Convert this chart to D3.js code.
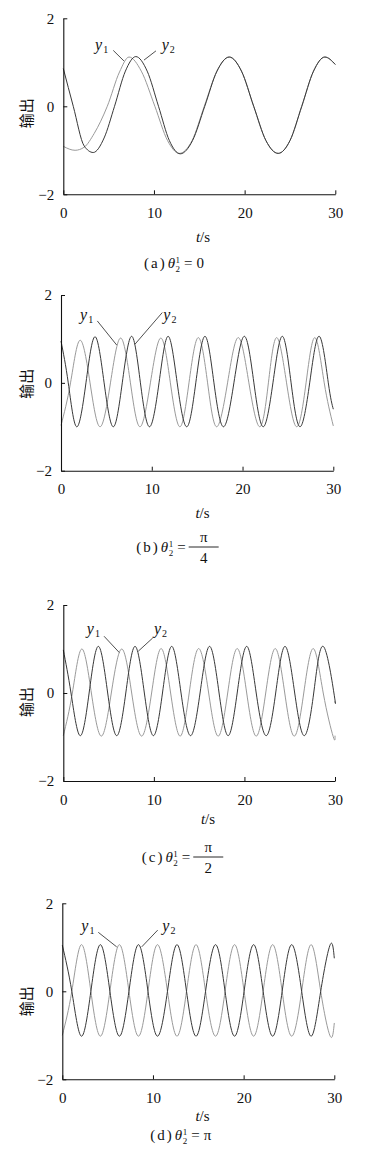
<!DOCTYPE html>
<html>
<head>
<meta charset="utf-8">
<script src="https://cdn.jsdelivr.net/npm/d3@7"></script>
<style>
body { margin: 0; background: #fff; }
svg text { font-family: "Liberation Serif", "DejaVu Serif", serif; fill: #111; }
</style>
</head>
<body>
<div id="chart"></div>
<script>
// tick labels and captions
var xTicks = [0, 10, 20, 30];
var yTicks = [2, 0, -2];
var panelLetters = ["a", "b", "c", "d"];
var thetaValues = ["0", "π/4", "π/2", "π"];

// (a) theta = 0 : [t, output]
var a_y1 = [[0,-0.91],[1.3,-1.0],[2.3,-0.93],[3.4,-0.62],[4.85,0],[6.2,0.78],[7.25,1.12],[8.6,0.8],[10.1,0],
            [11.5,-0.78],[12.8,-1.07],[14.2,-0.78],[15.55,0],[16.95,0.8],[18.3,1.12],[19.65,0.8],[21.0,0],
            [22.35,-0.78],[23.7,-1.07],[25.0,-0.78],[26.3,0],[27.6,0.8],[28.85,1.12],[30,0.95]];
var a_y2 = [[0,0.86],[1.1,0],[2.3,-0.9],[3.3,-1.05],[4.5,-0.72],[5.65,0],[6.85,0.8],[8.0,1.13],[9.25,0.8],
            [10.5,0],[11.7,-0.78],[12.9,-1.08],[14.25,-0.78],[15.6,0],[16.95,0.8],[18.3,1.12],[19.65,0.8],
            [21.0,0],[22.35,-0.78],[23.7,-1.07],[25.0,-0.78],[26.3,0],[27.6,0.8],[28.85,1.12],[30,0.95]];

// (b) theta = pi/4
var b_y1 = [[0,-0.97],[1.05,0],[2.09,0.97],[3.2,0],[4.3,-1.0],[5.45,0],[6.57,1.02],[7.65,0],[8.7,-1.0],
            [9.85,0],[11.0,1.02],[12.05,0],[13.1,-1.0],[14.1,0],[15.13,1.03],[16.15,0],[17.15,-1.0],
            [18.35,0],[19.53,1.03],[20.7,0],[21.9,-1.0],[22.85,0],[23.76,1.03],[24.85,0],[25.97,-1.0],
            [27.0,0],[27.98,1.03],[29.0,0],[30,-0.98]];
var b_y2 = [[0,0.95],[0.8,0],[1.72,-1.0],[2.75,0],[3.75,1.05],[4.75,0],[5.76,-1.0],[6.75,0],[7.78,1.06],
            [8.75,0],[9.75,-1.0],[10.8,0],[11.8,1.06],[12.8,0],[13.85,-1.0],[14.85,0],[15.86,1.06],
            [16.85,0],[17.9,-1.0],[19.05,0],[20.2,1.06],[21.25,0],[22.28,-1.0],[23.35,0],[24.38,1.06],
            [25.35,0],[26.33,-1.0],[27.4,0],[28.46,1.06],[29.45,0],[30,-0.6]];

// (c) theta = pi/2
var c_y1 = [[0,-0.97],[1.0,0],[2.03,1.0],[3.1,0],[4.2,-0.98],[5.3,0],[6.45,1.0],[7.55,0],[8.65,-0.98],
            [9.75,0],[10.8,1.01],[11.85,0],[12.9,-0.98],[13.9,0],[14.95,1.01],[16.05,0],[17.1,-0.98],
            [18.15,0],[19.2,1.01],[20.25,0],[21.3,-0.98],[22.35,0],[23.4,1.01],[24.45,0],[25.5,-0.98],
            [26.55,0],[27.6,1.01],[28.7,0],[29.8,-0.99],[30,-0.97]];
var c_y2 = [[0,0.98],[0.85,0],[1.85,-0.97],[2.85,0],[3.87,1.06],[4.9,0],[5.9,-0.97],[6.9,0],[7.92,1.06],
            [8.95,0],[9.95,-0.97],[10.95,0],[11.97,1.06],[13.0,0],[14.05,-0.97],[15.1,0],[16.15,1.06],
            [17.2,0],[18.2,-0.97],[19.2,0],[20.25,1.06],[21.3,0],[22.4,-0.97],[23.45,0],[24.48,1.06],
            [25.55,0],[26.6,-0.97],[27.65,0],[28.7,1.06],[29.88,0],[30,-0.19]];

// (d) theta = pi
var d_y1 = [[0,-1.0],[1.05,0],[2.1,1.06],[3.15,0],[4.2,-1.02],[5.25,0],[6.3,1.06],[7.35,0],[8.4,-1.02],
            [9.45,0],[10.5,1.06],[11.6,0],[12.65,-1.02],[13.7,0],[14.75,1.06],[15.8,0],[16.9,-1.02],
            [17.95,0],[19.0,1.06],[20.05,0],[21.1,-1.02],[22.15,0],[23.2,1.06],[24.25,0],[25.3,-1.02],
            [26.4,0],[27.45,1.06],[28.5,0],[29.55,-1.02],[30,-0.72]];
var d_y2 = [[0,1.05],[1.05,0],[2.1,-1.02],[3.15,0],[4.2,1.06],[5.25,0],[6.3,-1.02],[7.35,0],[8.4,1.06],
            [9.45,0],[10.5,-1.02],[11.6,0],[12.65,1.06],[13.7,0],[14.75,-1.02],[15.8,0],[16.9,1.06],
            [17.95,0],[19.0,-1.02],[20.05,0],[21.1,1.06],[22.15,0],[23.2,-1.02],[24.25,0],[25.3,1.06],
            [26.4,0],[27.45,-1.02],[28.5,0],[29.55,1.06],[30,0.75]];

var seriesData = [[a_y1, a_y2], [b_y1, b_y2], [c_y1, c_y2], [d_y1, d_y2]];

// layout of each panel (pixels) and label anchors (data units)
var panels = [
  {left: 63.3, top: 18.3, w: 272, h: 176, capX: 174, capY: 268, xlabX: 203, xlabY: 242, ylabOff: 7,
   lab1: [3.5, 1.27], lead1: [[5.51, 1.27], [6.69, 1.03]], lab2: [10.85, 1.27], lead2: [[10.22, 1.26], [8.9, 1.05]]},
  {left: 61, top: 295, w: 272.3, h: 175.7, capX: 177.5, capY: 551.5, xlabX: 202.5, xlabY: 518, ylabOff: 1,
   lab1: [2.1, 1.44], lead1: [[4.0, 1.41], [6.14, 0.86]], lab2: [11.27, 1.44], lead2: [[11.16, 1.6], [8.15, 0.88]]},
  {left: 63.3, top: 605, w: 271.7, h: 176, capX: 182.5, capY: 861.5, xlabX: 208, xlabY: 824, ylabOff: 9,
   lab1: [2.6, 1.33], lead1: [[4.5, 1.29], [6.18, 0.92]], lab2: [10.01, 1.33], lead2: [[9.87, 1.25], [8.28, 0.95]]},
  {left: 62.3, top: 903.3, w: 272, h: 176, capX: 181, capY: 1140, xlabX: 202.5, xlabY: 1121, ylabOff: 10,
   lab1: [2.1, 1.36], lead1: [[3.97, 1.34], [6.0, 1.01]], lab2: [11.03, 1.36], lead2: [[10.52, 1.39], [8.76, 1.01]]}
];

var colorY1 = "#9a9a9a";
var colorY2 = "#383838";

var svg = d3.select("#chart")
  .append("svg")
  .attr("width", 389)
  .attr("height", 1152);

panels.forEach(function(p, i) {
  var x = d3.scaleLinear().domain([0, 30]).range([0, p.w]);
  var y = d3.scaleLinear().domain([-2, 2]).range([p.h, 0]);

  var g = svg.append("g")
    .attr("transform", "translate(" + p.left + "," + p.top + ")");

  // curves, light one first; panel (a) is irregular so keep it monotone
  var line = d3.line()
    .x(function(d) { return x(d[0]); })
    .y(function(d) { return y(d[1]); })
    .curve(i == 0 ? d3.curveMonotoneX : d3.curveNatural);

  g.append("path")
    .datum(seriesData[i][0])
    .attr("fill", "none")
    .attr("stroke", colorY1)
    .attr("stroke-width", 1)
    .attr("d", line);

  g.append("path")
    .datum(seriesData[i][1])
    .attr("fill", "none")
    .attr("stroke", colorY2)
    .attr("stroke-width", 1)
    .attr("d", line);

  // axes
  var xAxis = g.append("g")
    .attr("transform", "translate(0," + p.h + ")")
    .call(d3.axisBottom(x).tickValues(xTicks).tickFormat(d3.format("d"))
      .tickSizeInner(-4).tickSizeOuter(0).tickPadding(13));

  var yAxis = g.append("g")
    .call(d3.axisLeft(y).tickValues(yTicks).tickFormat(d3.format("d"))
      .tickSizeInner(-4).tickSizeOuter(0).tickPadding(9));

  [xAxis, yAxis].forEach(function(a) {
    a.attr("font-family", null);
    a.select(".domain").attr("stroke", "#111").attr("stroke-width", 1.1);
    a.selectAll(".tick line").attr("stroke", "#111");
    a.selectAll(".tick text")
      .style("font-family", "'Liberation Serif', serif")
      .style("font-size", "15px")
      .attr("fill", "#111");
  });

  // series labels with leader lines
  [[p.lab1, p.lead1, "1"], [p.lab2, p.lead2, "2"]].forEach(function(l) {
    var t = g.append("text")
      .attr("x", x(l[0][0]))
      .attr("y", y(l[0][1]))
      .style("font-size", "16px");
    t.append("tspan").style("font-style", "italic").text("y");
    t.append("tspan").attr("dx", 1).attr("dy", 3).style("font-size", "10px").text(l[2]);

    g.append("line")
      .attr("x1", x(l[1][0][0])).attr("y1", y(l[1][0][1]))
      .attr("x2", x(l[1][1][0])).attr("y2", y(l[1][1][1]))
      .attr("stroke", "#222")
      .attr("stroke-width", 0.8);
  });

  // axis titles
  svg.append("text")
    .attr("transform", "translate(27," + (p.top + p.h / 2 + p.ylabOff) + ") rotate(-90)")
    .attr("text-anchor", "middle")
    .attr("dy", "0.35em")
    .style("font-family", "'Noto Sans CJK SC', sans-serif")
    .style("font-size", "15px")
    .text("输出");

  var xl = svg.append("text")
    .attr("x", p.xlabX)
    .attr("y", p.xlabY)
    .attr("text-anchor", "middle")
    .style("font-size", "15px");
  xl.append("tspan").style("font-style", "italic").text("t");
  xl.append("tspan").text("/s");

  // caption
  var cg = svg.append("g");
  var ct = cg.append("text")
    .attr("x", 0)
    .attr("y", p.capY)
    .style("font-size", "15px");
  ct.append("tspan").text("(");
  ct.append("tspan").attr("dx", 2).text(panelLetters[i]);
  ct.append("tspan").attr("dx", 2).text(")");
  ct.append("tspan").attr("dx", 3).style("font-style", "italic").text("θ");
  ct.append("tspan").attr("dx", 0.5).attr("dy", 4).style("font-size", "9px").text("2");
  ct.append("tspan").attr("dx", -4.5).attr("dy", -9).style("font-size", "9px").text("1");
  ct.append("tspan").attr("dx", 4).attr("dy", 5).text("=");

  var val = thetaValues[i];
  var total;
  if (val.indexOf("/") >= 0) {
    var parts = val.split("/");
    var bb = ct.node().getBBox();
    var fx = bb.x + bb.width + 3, fw = 30;
    cg.append("text")
      .attr("x", fx + fw / 2)
      .attr("y", p.capY - 9.5)
      .attr("text-anchor", "middle")
      .style("font-size", "15px")
      .text(parts[0]);
    cg.append("line")
      .attr("x1", fx).attr("x2", fx + fw)
      .attr("y1", p.capY - 4.5).attr("y2", p.capY - 4.5)
      .attr("stroke", "#111")
      .attr("stroke-width", 0.9);
    cg.append("text")
      .attr("x", fx + fw / 2)
      .attr("y", p.capY + 11.5)
      .attr("text-anchor", "middle")
      .style("font-size", "15px")
      .text(parts[1]);
    total = fx + fw;
  } else {
    ct.append("tspan").attr("dx", 4).text(val);
    var bb2 = ct.node().getBBox();
    total = bb2.x + bb2.width;
  }
  cg.attr("transform", "translate(" + (p.capX - total / 2) + ",0)");
});
</script>
</body>
</html>
